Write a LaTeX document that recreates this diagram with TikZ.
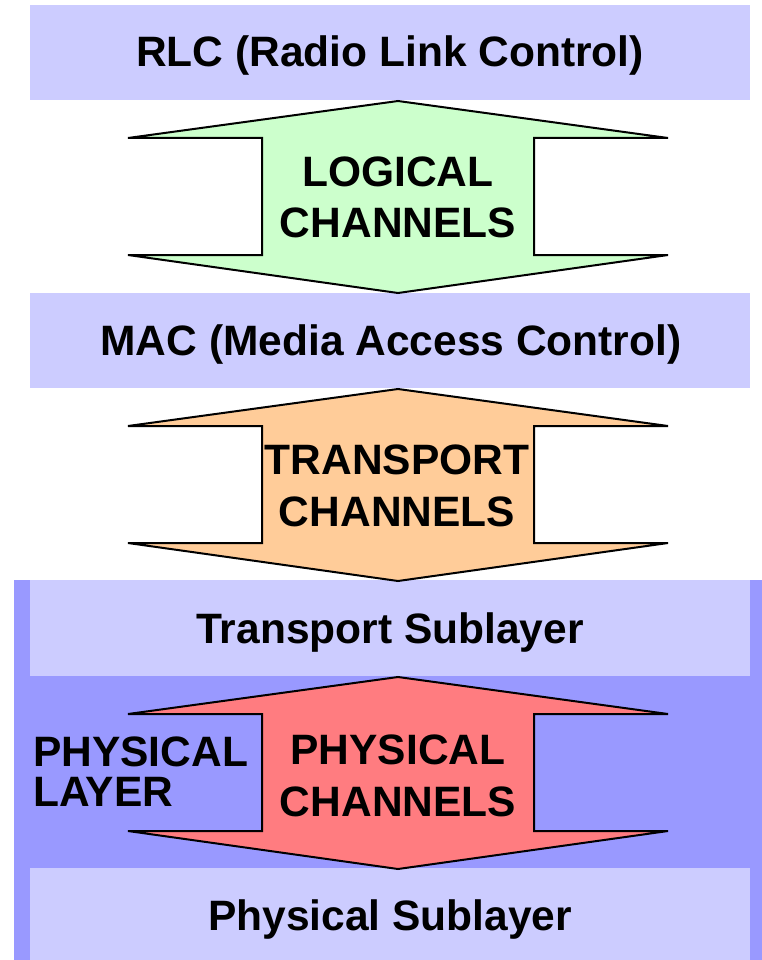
\documentclass[tikz,border=0pt]{standalone}
\usepackage{fontspec}
\setmainfont{Liberation Sans}
\definecolor{layerfill}{HTML}{CCCCFF}
\definecolor{physfill}{HTML}{9999FF}
\definecolor{logicfill}{HTML}{CCFFCC}
\definecolor{transfill}{HTML}{FFCC99}
\definecolor{chanfill}{HTML}{FF7C80}
\tikzset{
  bigtext/.style={font=\bfseries\fontsize{42.5}{51.5}\selectfont, text=black, inner sep=0pt},
  layerbox/.style={fill=layerfill, draw=none, minimum width=720pt, minimum height=95pt, inner sep=0pt},
  boxlabel/.style={bigtext, anchor=base},
  chanlabel/.style={bigtext, align=center},
  dblarrow/.pic={
    \draw[line width=2pt, line join=miter, pic actions]
      (0,0) -- (270,37) -- (136,37) -- (136,154) -- (270,154) -- (0,192)
      -- (-270,154) -- (-136,154) -- (-136,37) -- (-270,37) -- cycle;
  }
}
\begin{document}
\begin{tikzpicture}[x=1pt,y=-1pt]
\useasboundingbox (0,0) rectangle (762,960);

% physical layer backdrop
\fill[physfill] (14,580) rectangle (762,960);

% protocol layers
\node[layerbox] (rlc) at (390,52.5) {};
\node[layerbox] (mac) at (390,340.5) {};
\node[layerbox, minimum height=96pt] (tsub) at (390,628) {};
\node[layerbox, minimum height=92pt] (psub) at (390,914) {};

\node[boxlabel] (rlctext) at (390,67) {RLC (Radio Link Control)};
\node[boxlabel] (mactext) at (391,355.5) {MAC (Media Access Control)};
\node[boxlabel] (tsubtext) at (390,643) {Transport Sublayer};
\node[boxlabel] (psubtext) at (390,930) {Physical Sublayer};

% channel arrows between layers
\pic[fill=logicfill] at (398,101) {dblarrow};
\pic[fill=transfill] at (398,389) {dblarrow};
\pic[fill=chanfill] at (398,677) {dblarrow};

\node[chanlabel] (logical) at (398,197.5) {LOGICAL\\CHANNELS};
\node[chanlabel] (transport) at (397,486) {TRANSPORT\\CHANNELS};
\node[chanlabel] (physical) at (398,776) {PHYSICAL\\CHANNELS};

\node[bigtext, anchor=west, align=left, font=\bfseries\fontsize{42.5}{40}\selectfont] (physlayer) at (33,772) {PHYSICAL\\LAYER};
\end{tikzpicture}
\end{document}
